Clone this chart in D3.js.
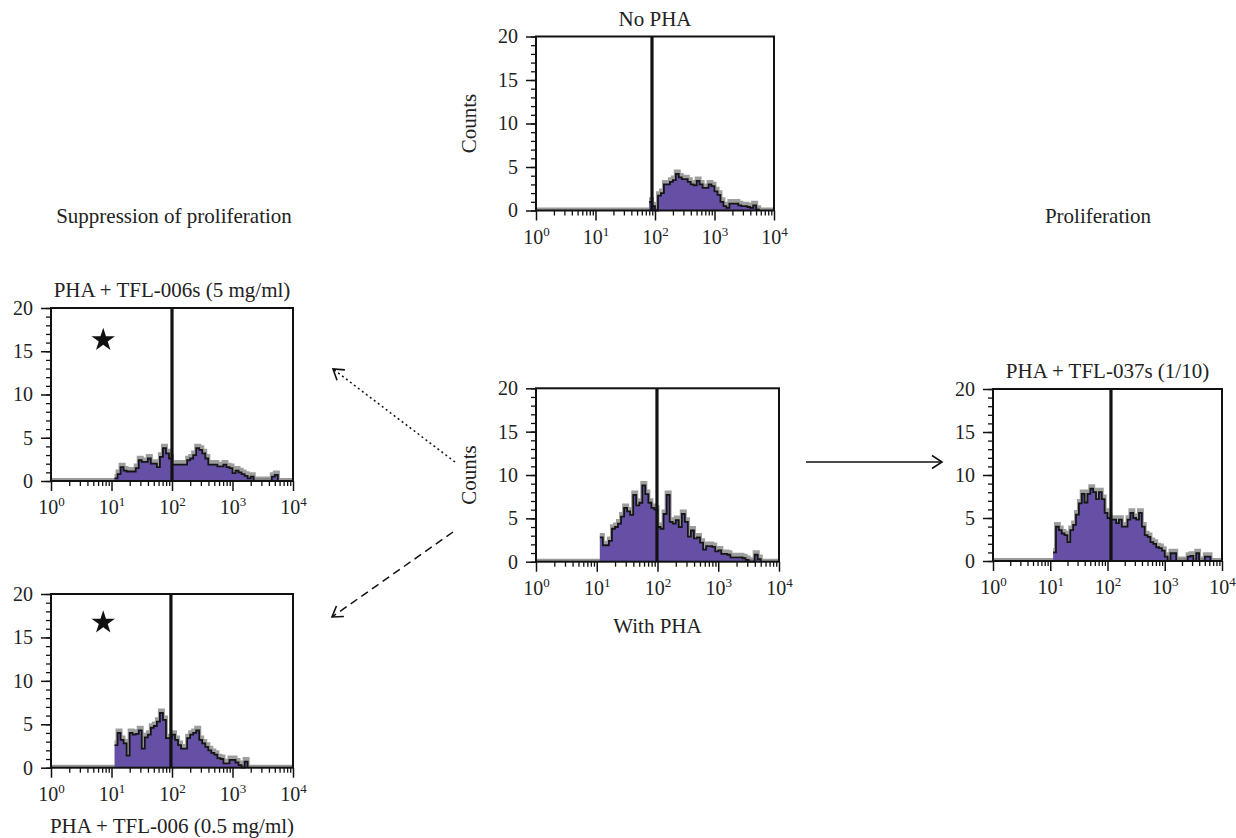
<!DOCTYPE html>
<html>
<head>
<meta charset="utf-8">
<script src="https://cdn.jsdelivr.net/npm/d3@7"></script>
<style>
  html, body { margin: 0; padding: 0; background: #fff; }
  svg { display: block; }
  text { font-family: "Liberation Serif", "DejaVu Serif", serif; fill: #222; }
</style>
</head>
<body>
<svg id="chart" width="1236" height="838"></svg>
<script>
// ---------------- DATA ----------------
// Histogram counts in bins of 0.05 decade (log10 of fluorescence), starting at the given exponent
const binWidthDecades = 0.05;

const noPhaStart = 1.90;
const noPhaCounts = [1.0, 0.5, 0, 1.7, 2.0, 3.0, 3.0, 3.3, 3.5, 4.2, 3.8, 3.6, 3.6, 3.3, 3.0, 2.9, 3.4, 3.0,
  2.6, 2.6, 3.0, 2.8, 2.2, 1.8, 1.0, 0.5, 0.3, 0.8, 0.8, 0.8, 0.6, 0.5, 0.5, 0.4, 0.3, 0.6, 0.1];

const withPhaStart = 1.05;
const withPhaCounts = [2.8, 1.9, 1.9, 2.4, 3.8, 4.0, 4.4, 5.2, 6.2, 5.8, 5.4, 7.7, 6.5, 6.8, 8.8, 7.8, 6.8, 6.2,
  6.0, 4.0, 3.8, 5.5, 7.7, 4.6, 4.4, 4.8, 4.0, 5.5, 4.6, 2.9, 3.6, 2.7, 2.8, 2.2, 1.4, 1.8, 1.8, 1.7, 1.2, 1.3,
  0.9, 0.9, 0.8, 0.5, 0.5, 0.5, 0.5, 0.4, 0.2, 0, 0, 0.8, 0.3];

const tfl006s5Start = 1.05;
const tfl006s5Counts = [0.3, 0.8, 1.6, 1.2, 1.1, 1.1, 1.1, 1.5, 2.4, 2.2, 2.2, 2.6, 2.0, 2.0, 1.6, 2.8, 3.8, 3.2,
  2.6, 1.9, 1.9, 1.9, 1.9, 1.9, 2.4, 2.6, 3.0, 3.8, 3.6, 3.2, 2.6, 1.9, 1.9, 1.9, 1.7, 1.7, 1.9, 1.6, 1.5, 0.9,
  1.2, 1.0, 0.8, 0.6, 0.3, 0.5, 0, 0, 0, 0, 0, 0, 0.5, 0.7];

const tfl006HalfStart = 1.05;
const tfl006HalfCounts = [2.6, 4.0, 3.2, 2.8, 1.4, 4.0, 3.8, 3.9, 4.3, 2.2, 3.5, 3.8, 4.6, 4.8, 5.3, 6.3, 5.5, 3.4,
  3.4, 3.8, 3.2, 2.6, 2.2, 2.2, 3.4, 3.8, 4.0, 4.3, 3.2, 2.8, 2.4, 2.0, 1.7, 1.5, 1.1, 1.0, 0.5, 0.5, 0.9, 0.9,
  0.6, 0.3, 0, 0.7];

const tfl037sStart = 1.05;
const tfl037sCounts = [1.0, 4.0, 3.6, 3.2, 3.0, 2.2, 3.6, 4.2, 5.4, 6.7, 7.8, 6.8, 7.8, 8.4, 8.0, 7.2, 8.0, 7.2,
  5.6, 5.0, 4.8, 4.8, 4.4, 4.8, 4.0, 4.0, 4.8, 5.6, 5.0, 4.8, 5.6, 4.0, 3.0, 2.8, 2.2, 2.0, 1.6, 1.5, 1.2, 0.5,
  0, 0.9, 0.9, 0, 0, 0, 0, 0.5, 0.6, 0, 0.9, 0, 0, 0.5, 0.5];

// Gate marker (vertical line) positions, fluorescence units
const markerValues = [89, 100, 96, 98, 115];
// Star annotations [x, y] in data units (panels 2 and 3)
const starPoints = [[7.3, 16.3], [7.3, 16.7]];

const panelTitles = ["No PHA", "PHA + TFL-006s (5 mg/ml)", "PHA + TFL-006 (0.5 mg/ml)", "With PHA", "PHA + TFL-037s (1/10)"];
const yTickValues = [0, 5, 10, 15, 20];
const xDecadeExponents = [0, 1, 2, 3, 4];
const sideLabels = ["Suppression of proliferation", "Proliferation"];
const axisTitle = "Counts";

// ---------------- LAYOUT ----------------
const panels = [
  { counts: noPhaCounts, start: noPhaStart, box: [536, 36.5, 774, 210.5], title: 0, titlePos: "top", counts_label: true, star: null },
  { counts: tfl006s5Counts, start: tfl006s5Start, box: [51, 308, 293, 481], title: 1, titlePos: "top", counts_label: false, star: 0 },
  { counts: tfl006HalfCounts, start: tfl006HalfStart, box: [51, 594, 293, 767.7], title: 2, titlePos: "bottom", counts_label: false, star: 1 },
  { counts: withPhaCounts, start: withPhaStart, box: [536, 388.3, 779, 561.7], title: 3, titlePos: "bottom", counts_label: true, star: null },
  { counts: tfl037sCounts, start: tfl037sStart, box: [993, 389, 1222, 561], title: 4, titlePos: "top", counts_label: false, star: null }
];

const svg = d3.select("#chart");
const purple = "#6650a6";
const tickFont = 20;
const labelFont = 21;

panels.forEach((p, pi) => {
  const [x0, y0, x1, y1] = p.box;
  const x = d3.scaleLog().domain([1, 1e4]).range([x0, x1]);
  const y = d3.scaleLinear().domain([0, 20]).range([y1, y0]);
  const g = svg.append("g");

  // histogram data
  const data = p.counts.map((c, i) => ({ v: Math.pow(10, p.start + i * binWidthDecades), c }));
  data.push({ v: Math.pow(10, p.start + p.counts.length * binWidthDecades), c: 0 });

  // grey baseline
  g.append("line").attr("x1", x0).attr("x2", x1).attr("y1", y(0) - 1.5).attr("y2", y(0) - 1.5)
    .attr("stroke", "#9a9a9a").attr("stroke-width", 3);

  const area = d3.area().x(d => x(d.v)).y0(y(0)).y1(d => y(d.c)).curve(d3.curveStepAfter);
  const line = d3.line().x(d => x(d.v)).y(d => y(d.c)).curve(d3.curveStepAfter);

  // grey halo (overlay histogram)
  g.append("path").datum(data).attr("d", line)
    .attr("transform", "translate(0,-2.5)")
    .attr("fill", "none").attr("stroke", "#7d7d7d").attr("stroke-width", 4).attr("opacity", 0.75);
  g.append("path").datum(data).attr("d", area).attr("fill", purple);
  g.append("path").datum(data).attr("d", line)
    .attr("fill", "none").attr("stroke", "#151515").attr("stroke-width", 1.8);

  // marker line
  g.append("line").attr("x1", x(markerValues[pi])).attr("x2", x(markerValues[pi]))
    .attr("y1", y0).attr("y2", y1).attr("stroke", "#111").attr("stroke-width", 3.2);

  // frame
  g.append("rect").attr("x", x0).attr("y", y0).attr("width", x1 - x0).attr("height", y1 - y0)
    .attr("fill", "none").attr("stroke", "#111").attr("stroke-width", 2);

  // Y axis major
  const yAxis = g.append("g").attr("transform", `translate(${x0},0)`)
    .call(d3.axisLeft(y).tickValues(yTickValues).tickSize(10).tickPadding(8));
  yAxis.select(".domain").remove();
  yAxis.selectAll("line").attr("stroke", "#111").attr("stroke-width", 1.5);
  yAxis.selectAll("text").attr("font-size", tickFont).attr("font-family", '"Liberation Serif", serif').attr("fill", "#222");
  // Y axis minor
  const yMinor = g.append("g").attr("transform", `translate(${x0},0)`)
    .call(d3.axisLeft(y).tickValues(d3.range(0, 21, 1)).tickSize(5).tickFormat(""));
  yMinor.select(".domain").remove();
  yMinor.selectAll("line").attr("stroke", "#111").attr("stroke-width", 1.3);

  // X axis major
  const decades = xDecadeExponents.map(e => Math.pow(10, e));
  const xAxis = g.append("g").attr("transform", `translate(0,${y1})`)
    .call(d3.axisBottom(x).tickValues(decades).tickSize(10).tickFormat(""));
  xAxis.select(".domain").remove();
  xAxis.selectAll("line").attr("stroke", "#111").attr("stroke-width", 1.5);
  xAxis.selectAll(".tick").append("text")
    .attr("y", 33).attr("text-anchor", "middle").attr("font-size", tickFont).attr("fill", "#222")
    .each(function (d) {
      const t = d3.select(this);
      t.append("tspan").text("10");
      t.append("tspan").attr("dy", -8).attr("font-size", 13).text(String(Math.round(Math.log10(d))));
    });
  // X axis minor
  const minor = [];
  xDecadeExponents.slice(0, -1).forEach(e => { for (let k = 2; k <= 9; k++) minor.push(k * Math.pow(10, e)); });
  const xMinor = g.append("g").attr("transform", `translate(0,${y1})`)
    .call(d3.axisBottom(x).tickValues(minor).tickSize(5).tickFormat(""));
  xMinor.select(".domain").remove();
  xMinor.selectAll("line").attr("stroke", "#111").attr("stroke-width", 1.3);

  // title
  const cx = (x0 + x1) / 2;
  if (p.titlePos === "top") {
    g.append("text").attr("x", cx).attr("y", y0 - 11).attr("text-anchor", "middle")
      .attr("font-size", labelFont).text(panelTitles[p.title]);
  } else {
    g.append("text").attr("x", cx).attr("y", y1 + (pi === 3 ? 71 : 65)).attr("text-anchor", "middle")
      .attr("font-size", labelFont).text(panelTitles[p.title]);
  }

  // counts label
  if (p.counts_label) {
    g.append("text").attr("transform", `translate(${x0 - 60},${(y0 + y1) / 2}) rotate(-90)`)
      .attr("text-anchor", "middle").attr("font-size", labelFont).text(axisTitle);
  }

  // star
  if (p.star !== null) {
    const s = starPoints[p.star];
    g.append("path").attr("d", d3.symbol(d3.symbolStar, 170)())
      .attr("transform", `translate(${x(s[0])},${y(s[1])})`).attr("fill", "#111");
  }
});

// side labels
svg.append("text").attr("x", 174).attr("y", 223).attr("text-anchor", "middle").attr("font-size", labelFont).text(sideLabels[0]);
svg.append("text").attr("x", 1098).attr("y", 223).attr("text-anchor", "middle").attr("font-size", labelFont).text(sideLabels[1]);

// arrows
const defs = svg.append("defs");
defs.append("marker").attr("id", "open").attr("viewBox", "-12 -8 14 16").attr("refX", 0).attr("refY", 0)
  .attr("markerWidth", 14).attr("markerHeight", 16).attr("markerUnits", "userSpaceOnUse").attr("orient", "auto")
  .append("path").attr("d", "M-10,-6.5 L0,0 L-10,6.5").attr("fill", "none").attr("stroke", "#111").attr("stroke-width", 1.6);

const arrows = [
  { from: [455, 462], to: [333, 369], dash: "2,3" },
  { from: [453, 532], to: [332, 617], dash: "8,5" },
  { from: [806, 462], to: [942, 462], dash: null }
];
arrows.forEach(a => {
  svg.append("line").attr("x1", a.from[0]).attr("y1", a.from[1]).attr("x2", a.to[0]).attr("y2", a.to[1])
    .attr("stroke", "#111").attr("stroke-width", 1.5)
    .attr("stroke-dasharray", a.dash)
    .attr("marker-end", "url(#open)");
});
</script>
</body>
</html>
